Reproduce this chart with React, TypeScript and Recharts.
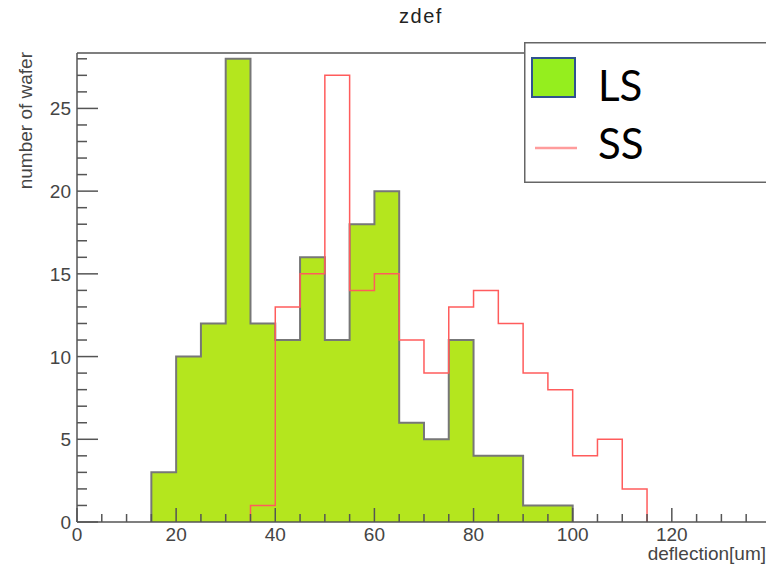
import { ComposedChart, Area, Line, XAxis, YAxis, ReferenceLine, Legend, Label } from 'recharts'

// histogram bins, 5 um wide, lower edges
const binLow = [15, 20, 25, 30, 35, 40, 45, 50, 55, 60, 65, 70, 75, 80, 85, 90, 95, 100, 105, 110]
const lsCounts = [3, 10, 12, 28, 12, 11, 16, 11, 18, 20, 6, 5, 11, 4, 4, 1, 1, 0, 0, 0]
const ssCounts = [0, 0, 0, 0, 1, 13, 15, 27, 14, 15, 11, 9, 13, 14, 12, 9, 8, 4, 5, 2]
const BIN_WIDTH = 5

const xTicks = [0, 5, 10, 15, 20, 25, 30, 35, 40, 45, 50, 55, 60, 65, 70, 75, 80, 85, 90, 95, 100, 105, 110, 115, 120, 125, 130, 135]
const yTicks = [0, 1, 2, 3, 4, 5, 6, 7, 8, 9, 10, 11, 12, 13, 14, 15, 16, 17, 18, 19, 20, 21, 22, 23, 24, 25, 26, 27, 28]
const X_MAX = 139
const Y_MAX = 28.35

const ROOT_FONT = '"Liberation Sans", Arial, sans-serif'
const AXIS_COLOR = '#555'
const TEXT_COLOR = '#454545'

// turn bin counts into step points (closed at both ends, like ROOT draws them)
function stepPoints(counts: number[]) {
    const used = counts.map((c, i) => (c > 0 ? i : -1)).filter((i) => i >= 0)
    const first = used[0]
    const last = used[used.length - 1]
    const pts = [{ x: binLow[first], y: 0 }]
    for (let i = first; i <= last; i++) pts.push({ x: binLow[i], y: counts[i] })
    pts.push({ x: binLow[last] + BIN_WIDTH, y: 0 })
    return pts
}

const lsPoints = stepPoints(lsCounts)
const ssPoints = stepPoints(ssCounts)

function XTick(props: any) {
    const { x, y, payload } = props
    const v = payload.value
    const major = v % 20 === 0
    return (
        <g>
            <line x1={x} x2={x} y1={y} y2={y - (major ? 14 : 8)} stroke={AXIS_COLOR} strokeWidth={1.5} />
            {major && (
                <text x={x} y={y + 19} textAnchor="middle" fontSize={19} fontFamily={ROOT_FONT} fill={TEXT_COLOR}>
                    {v}
                </text>
            )}
        </g>
    )
}

function YTick(props: any) {
    const { x, y, payload } = props
    const v = payload.value
    const major = v % 5 === 0
    return (
        <g>
            <line x1={x} x2={x + (major ? 21 : 10)} y1={y} y2={y} stroke={AXIS_COLOR} strokeWidth={1.5} />
            {major && (
                <text x={x - 6} y={y + 7} textAnchor="end" fontSize={19} fontFamily={ROOT_FONT} fill={TEXT_COLOR}>
                    {v}
                </text>
            )}
        </g>
    )
}

function LegendBox() {
    return (
        <svg width={260} height={141} style={{ display: 'block' }}>
            <rect x={0.75} y={0.75} width={258} height={139.5} fill="#fff" stroke="#666" strokeWidth={1.5} />
            <rect x={8} y={16} width={43} height={39} fill="#95ee1e" stroke="#2f528f" strokeWidth={2} />
            <text x={74} y={59} fontSize={42} fontFamily="Lato, 'Open Sans', sans-serif" fill="#000">LS</text>
            <line x1={11} x2={53} y1={106} y2={106} stroke="#ff9c9c" strokeWidth={2.5} />
            <text x={74} y={117} fontSize={42} fontFamily="Lato, 'Open Sans', sans-serif" fill="#000">SS</text>
        </svg>
    )
}

export default function App() {
    return (
        <div style={{ position: 'absolute', left: 0, top: 0, width: 766, height: 566, overflow: 'hidden', background: '#fff' }}>
            <div
                style={{
                    position: 'absolute', left: 371, top: 5, width: 100, textAlign: 'center',
                    fontFamily: ROOT_FONT, fontSize: 20, letterSpacing: 1.5, color: '#222',
                }}
            >
                zdef
            </div>
            <ComposedChart width={766} height={566} margin={{ top: 53, right: 0, bottom: 0, left: 0 }}>
                <XAxis
                    dataKey="x"
                    type="number"
                    domain={[0, X_MAX]}
                    ticks={xTicks}
                    interval={0}
                    allowDataOverflow
                    height={44}
                    tickLine={false}
                    tickSize={0}
                    tickMargin={0}
                    tick={<XTick />}
                    axisLine={{ stroke: AXIS_COLOR, strokeWidth: 1.5 }}
                >
                    <Label
                        content={() => (
                            <text x={766} y={560} textAnchor="end" fontSize={19} fontFamily={ROOT_FONT} fill={TEXT_COLOR}>
                                deflection[um]
                            </text>
                        )}
                    />
                </XAxis>
                <YAxis
                    type="number"
                    domain={[0, Y_MAX]}
                    ticks={yTicks}
                    interval={0}
                    allowDataOverflow
                    width={77}
                    tickLine={false}
                    tickSize={0}
                    tickMargin={0}
                    tick={<YTick />}
                    axisLine={{ stroke: AXIS_COLOR, strokeWidth: 1.5 }}
                >
                    <Label
                        content={() => (
                            <text
                                transform="rotate(-90)"
                                x={-52}
                                y={32}
                                textAnchor="end"
                                fontSize={19}
                                fontFamily={ROOT_FONT}
                                fill={TEXT_COLOR}
                            >
                                number of wafer
                            </text>
                        )}
                    />
                </YAxis>
                <ReferenceLine y={Y_MAX} stroke={AXIS_COLOR} strokeWidth={1.5} />
                <Area
                    data={lsPoints}
                    dataKey="y"
                    name="LS"
                    type="stepAfter"
                    fill="#b4e61e"
                    fillOpacity={1}
                    stroke="#777"
                    strokeWidth={2}
                    dot={false}
                    activeDot={false}
                    isAnimationActive={false}
                />
                <Line
                    data={ssPoints}
                    dataKey="y"
                    name="SS"
                    type="stepAfter"
                    stroke="#ff5c5c"
                    strokeWidth={1.5}
                    dot={false}
                    activeDot={false}
                    isAnimationActive={false}
                />
                <Legend
                    layout="horizontal"
                    verticalAlign="middle"
                    align="center"
                    wrapperStyle={{ left: 524, top: 42, width: 260, height: 141 }}
                    content={() => <LegendBox />}
                />
            </ComposedChart>
        </div>
    )
}
